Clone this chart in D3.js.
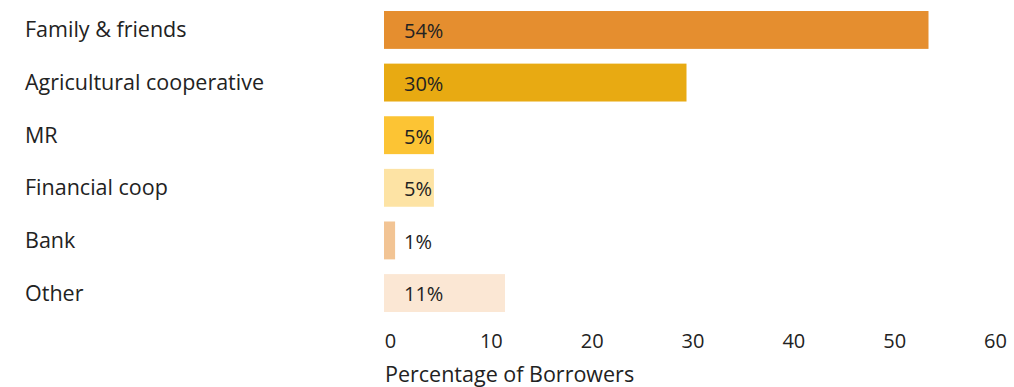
<!DOCTYPE html>
<html>
<head>
<meta charset="utf-8">
<script src="https://cdn.jsdelivr.net/npm/d3@7"></script>
<style>
  body { margin: 0; background: #fff; }
  text { font-family: "Open Sans", sans-serif; fill: #222; }
</style>
</head>
<body>
<div id="chart"></div>
<script>
// data
var categories = ["Family & friends", "Agricultural cooperative", "MR", "Financial coop", "Bank", "Other"];
var values = [54, 30, 4.95, 4.95, 1.1, 12];
var valueLabels = ["54%", "30%", "5%", "5%", "1%", "11%"];
var colors = ["#e58e2f", "#e8aa12", "#fcc434", "#fde3a4", "#f2c494", "#fbe7d4"];
var xTicks = [0, 10, 20, 30, 40, 50, 60];

var width = 1014,
    height = 387;

var x = d3.scaleLinear()
    .domain([0, 60])
    .range([384, 989]);

var y = d3.scaleBand()
    .domain(categories)
    .range([11, 312])
    .paddingInner(0.28)
    .paddingOuter(0);

var svg = d3.select("#chart").append("svg")
    .attr("width", width)
    .attr("height", height);

var rows = svg.selectAll(".row")
    .data(categories)
  .enter().append("g")
    .attr("class", "row");

rows.append("rect")
    .attr("x", x(0))
    .attr("y", function(d) { return y(d); })
    .attr("width", function(d, i) { return x(values[i]) - x(0); })
    .attr("height", y.bandwidth())
    .style("fill", function(d, i) { return colors[i]; });

// category names on the left
rows.append("text")
    .attr("x", 25)
    .attr("y", function(d) { return y(d) + y.bandwidth() / 2; })
    .attr("dy", ".35em")
    .style("font-size", "21.5px")
    .text(function(d) { return d; });

// value labels inside the bars
rows.append("text")
    .attr("x", x(0) + 20)
    .attr("y", function(d) { return y(d) + y.bandwidth() / 2; })
    .attr("dy", ".42em")
    .style("font-size", "20px")
    .text(function(d, i) { return valueLabels[i]; });

var xAxis = d3.axisBottom(x)
    .tickValues(xTicks)
    .tickSize(0)
    .tickPadding(0);

var gx = svg.append("g")
    .attr("transform", "translate(0,334)")
    .call(xAxis);

gx.select(".domain").remove();
gx.selectAll("text")
    .attr("dx", 6)
    .style("font-size", "20px")
    .style("font-family", "'Open Sans', sans-serif")
    .style("fill", "#222");

svg.append("text")
    .attr("x", 385)
    .attr("y", 382)
    .style("font-size", "21.5px")
    .text("Percentage of Borrowers");
</script>
</body>
</html>
